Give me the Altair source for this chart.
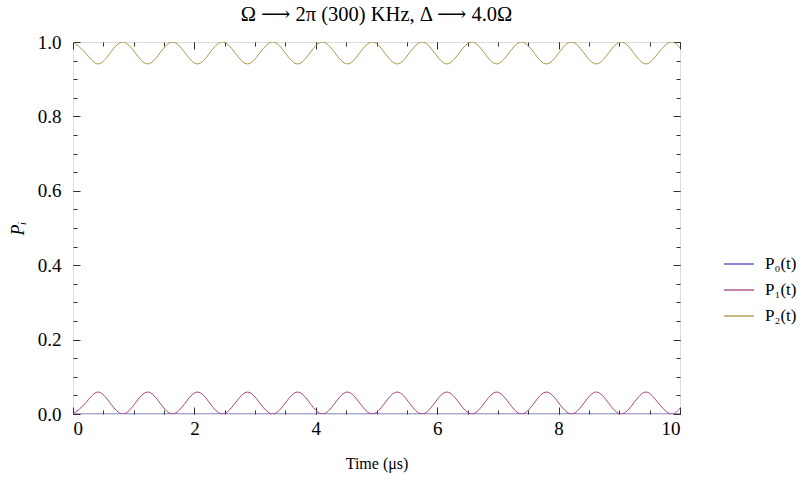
import altair as alt
import pandas as pd

FONT = "Times New Roman, Liberation Serif, DejaVu Serif, serif"

# time samples (μs) read at quarter periods of the oscillation
time_us = [0.00, 0.205, 0.41, 0.615, 0.82, 1.025, 1.23, 1.435, 1.64, 1.845,
           2.05, 2.255, 2.46, 2.67, 2.875, 3.08, 3.29, 3.495, 3.70, 3.905,
           4.11, 4.315, 4.52, 4.725, 4.93, 5.135, 5.34, 5.545, 5.75, 5.955,
           6.16, 6.365, 6.57, 6.775, 6.98, 7.185, 7.39, 7.595, 7.80, 8.005,
           8.21, 8.415, 8.62, 8.825, 9.03, 9.235, 9.44, 9.645, 9.85, 10.0]

p0 = [0.0, 0.0, 0.0, 0.0, 0.0, 0.0, 0.0, 0.0, 0.0, 0.0,
      0.0, 0.0, 0.0, 0.0, 0.0, 0.0, 0.0, 0.0, 0.0, 0.0,
      0.0, 0.0, 0.0, 0.0, 0.0, 0.0, 0.0, 0.0, 0.0, 0.0,
      0.0, 0.0, 0.0, 0.0, 0.0, 0.0, 0.0, 0.0, 0.0, 0.0,
      0.0, 0.0, 0.0, 0.0, 0.0, 0.0, 0.0, 0.0, 0.0, 0.0]

p1 = [0.0, 0.029, 0.059, 0.029, 0.0, 0.029, 0.059, 0.029, 0.0, 0.029,
      0.059, 0.029, 0.0, 0.029, 0.059, 0.029, 0.0, 0.029, 0.059, 0.029,
      0.0, 0.029, 0.059, 0.029, 0.0, 0.029, 0.059, 0.029, 0.0, 0.029,
      0.059, 0.029, 0.0, 0.029, 0.059, 0.029, 0.0, 0.029, 0.059, 0.029,
      0.0, 0.029, 0.059, 0.029, 0.0, 0.029, 0.059, 0.029, 0.0, 0.016]

p2 = [1.0, 0.971, 0.941, 0.971, 1.0, 0.971, 0.941, 0.971, 1.0, 0.971,
      0.941, 0.971, 1.0, 0.971, 0.941, 0.971, 1.0, 0.971, 0.941, 0.971,
      1.0, 0.971, 0.941, 0.971, 1.0, 0.971, 0.941, 0.971, 1.0, 0.971,
      0.941, 0.971, 1.0, 0.971, 0.941, 0.971, 1.0, 0.971, 0.941, 0.971,
      1.0, 0.971, 0.941, 0.971, 1.0, 0.971, 0.941, 0.971, 1.0, 0.984]

series_labels = ["P₀(t)", "P₁(t)", "P₂(t)"]
series_colors = ["#4a4ab0", "#a8407c", "#a89440"]

x_major = [0, 2, 4, 6, 8, 10]
x_minor = [0, 0.5, 1, 1.5, 2, 2.5, 3, 3.5, 4, 4.5, 5, 5.5, 6, 6.5, 7, 7.5,
           8, 8.5, 9, 9.5, 10]
y_major = [0.0, 0.2, 0.4, 0.6, 0.8, 1.0]
y_minor = [0.0, 0.05, 0.1, 0.15, 0.2, 0.25, 0.3, 0.35, 0.4, 0.45, 0.5, 0.55,
           0.6, 0.65, 0.7, 0.75, 0.8, 0.85, 0.9, 0.95, 1.0]

rows = []
for lab, vals in zip(series_labels, [p0, p1, p2]):
    for t, v in zip(time_us, vals):
        rows.append({"t": t, "P": v, "series": lab})
df = pd.DataFrame(rows)

xs = alt.Scale(domain=[0, 10], nice=False, zero=False)
ys = alt.Scale(domain=[0, 1], nice=False, zero=False)

MAJ = 7
MIN = 4
TICK = "#333333"
LABEL_SIZE = 19


def xaxis(orient, values, size, labels=False, title=None):
    kw = dict(orient=orient, values=values, tickSize=size, offset=-size,
              domain=False, grid=False, tickColor=TICK, tickWidth=1,
              labels=labels)
    if labels:
        kw.update(labelFont=FONT, labelFontSize=LABEL_SIZE, labelColor="black",
                  labelPadding=5, format="d")
    if title:
        kw.update(title=title, titleFont=FONT, titleFontSize=16,
                  titleFontWeight="normal", titleColor="black", titlePadding=17)
    else:
        kw.update(title=None)
    return alt.Axis(**kw)


def yaxis(orient, values, size, labels=False, title=None):
    kw = dict(orient=orient, values=values, tickSize=size, offset=-size,
              domain=False, grid=False, tickColor=TICK, tickWidth=1,
              labels=labels)
    if labels:
        kw.update(labelFont=FONT, labelFontSize=LABEL_SIZE, labelColor="black",
                  labelPadding=12, format=".1f")
    if title:
        kw.update(title=title, titleFont=FONT, titleFontSize=18,
                  titleFontStyle="italic", titleFontWeight="normal",
                  titleColor="black", titlePadding=10)
    else:
        kw.update(title=None)
    return alt.Axis(**kw)


lines = alt.Chart(df).mark_line(strokeWidth=1, interpolate="natural", clip=True).encode(
    x=alt.X("t:Q", scale=xs, axis=xaxis("bottom", x_major, MAJ, True, "Time (μs)")),
    y=alt.Y("P:Q", scale=ys, axis=yaxis("left", y_major, MAJ, True, "Pᵢ")),
    color=alt.Color("series:N",
                    scale=alt.Scale(domain=series_labels, range=series_colors),
                    legend=alt.Legend(orient="none", legendX=650, legendY=206,
                                      title=None, symbolType="stroke",
                                      symbolSize=900, symbolStrokeWidth=1.3,
                                      labelFont=FONT, labelFontSize=17,
                                      labelColor="black", rowPadding=2,
                                      labelOffset=10)),
    order=alt.Order("t:Q"),
)


def ghost(xa, ya):
    return alt.Chart(df).mark_point(opacity=0, size=1).encode(
        x=alt.X("t:Q", scale=xs, axis=xa),
        y=alt.Y("P:Q", scale=ys, axis=ya),
    )


g1 = ghost(xaxis("bottom", x_minor, MIN), yaxis("left", y_minor, MIN))
g2 = ghost(xaxis("top", x_major, MAJ), yaxis("right", y_major, MAJ))
g3 = ghost(xaxis("top", x_minor, MIN), yaxis("right", y_minor, MIN))

chart = alt.layer(lines, g1, g2, g3).resolve_axis(
    x="independent", y="independent"
).properties(
    width=607,
    height=372,
    autosize="none",
    padding={"left": 73, "top": 42, "right": 131, "bottom": 70},
    title=alt.Title("Ω ⟶ 2π (300) KHz, Δ ⟶ 4.0Ω", font=FONT, fontSize=20.5,
                    fontWeight="normal", color="black", anchor="middle",
                    frame="group", orient="top", offset=8),
).configure_axis(
    labelFont=FONT, titleFont=FONT
).configure_view(
    stroke="#444444", strokeWidth=1
).configure(background="white")

chart.save("out.html", embed_options={"renderer": "svg", "actions": False})
